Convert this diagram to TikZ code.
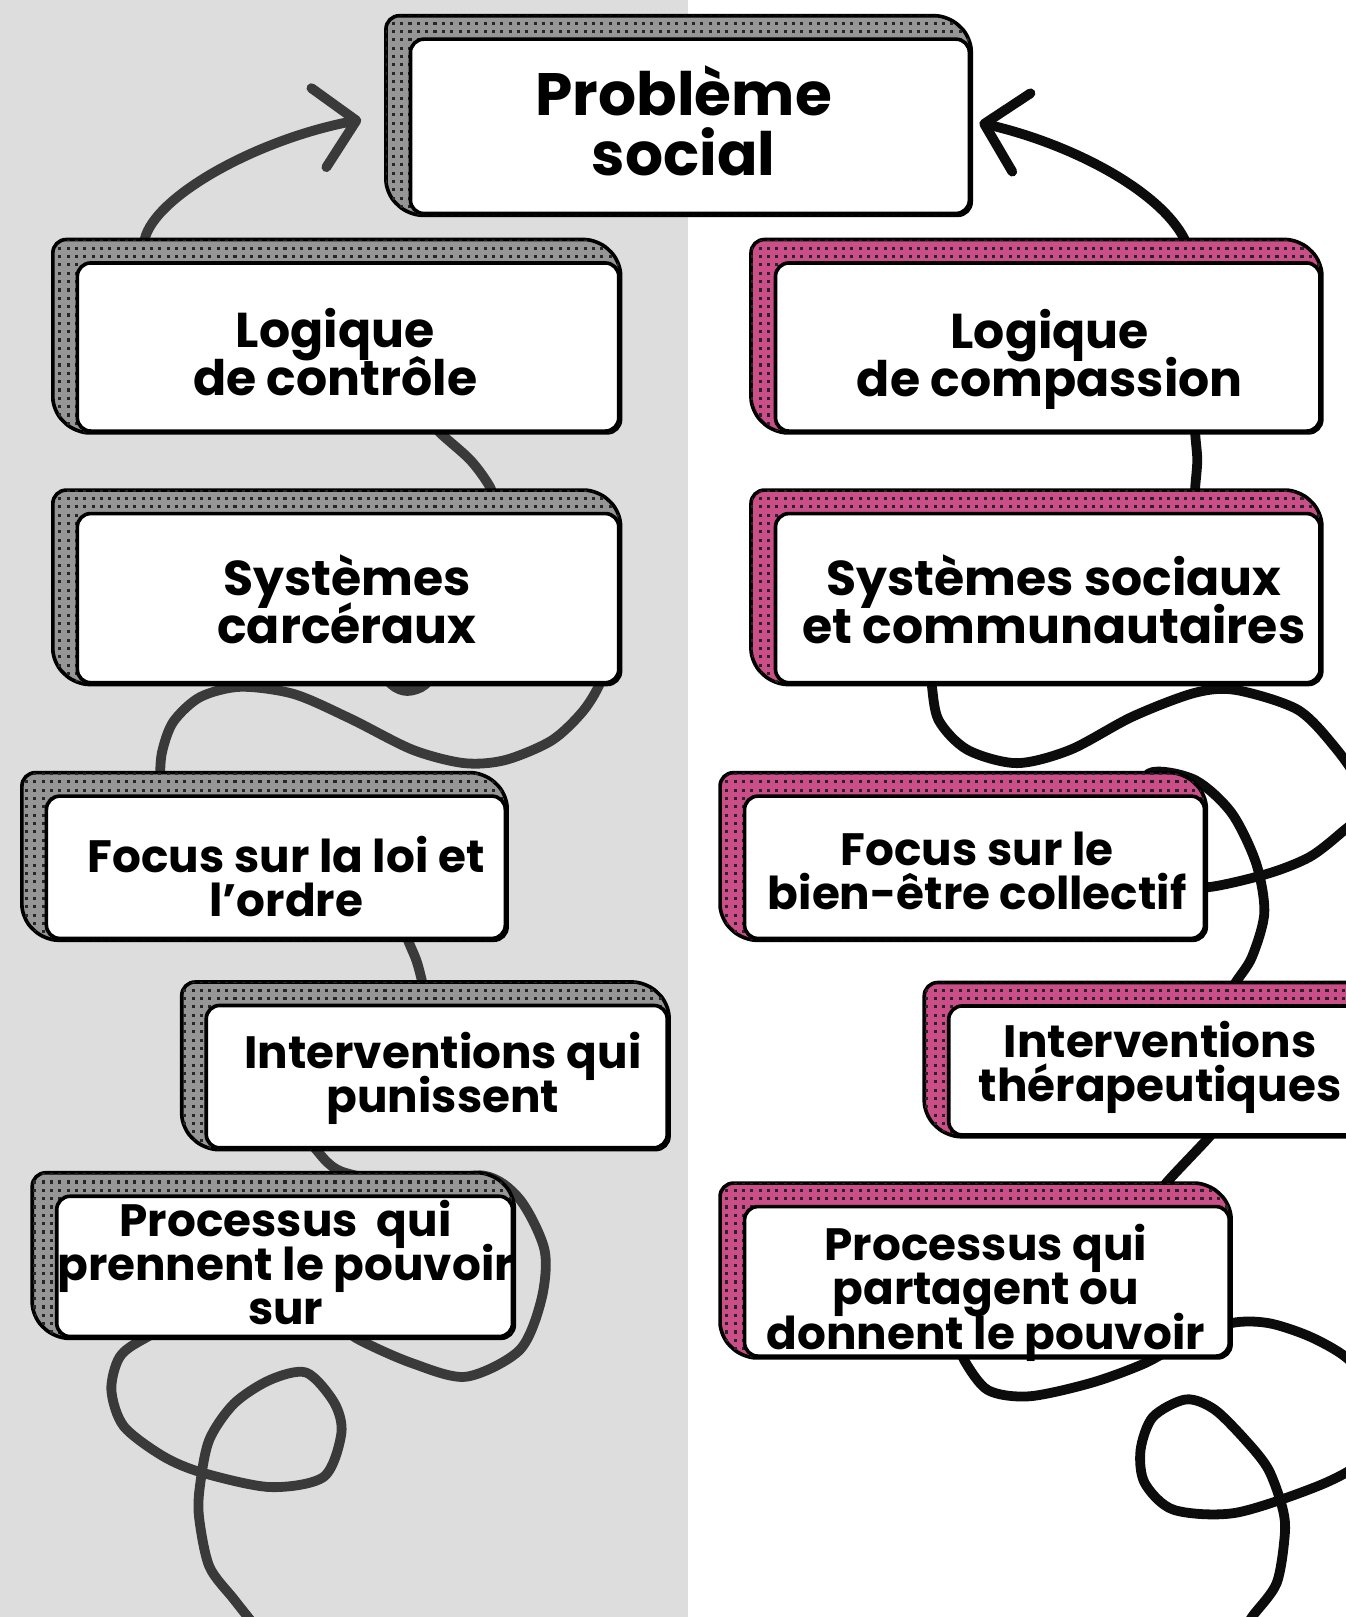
\documentclass[tikz,border=0pt]{standalone}
\usepackage{fontspec}
\setmainfont{Poppins}
\usetikzlibrary{arrows.meta,patterns}

\definecolor{leftbg}{RGB}{221,221,221}
\definecolor{rose}{RGB}{204,78,136}
\definecolor{slate}{RGB}{150,150,150}
\definecolor{inkgray}{RGB}{58,58,58}
\definecolor{ink}{RGB}{12,12,12}

\pgfdeclarelayer{bg}
\pgfdeclarelayer{curves}
\pgfdeclarelayer{depth}
\pgfsetlayers{bg,curves,depth,main}

% little squares for the 3d edge
\pgfdeclarepatternformonly{checks}{\pgfqpoint{-1pt}{-1pt}}{\pgfqpoint{4.6pt}{4.6pt}}{\pgfqpoint{4.6pt}{4.6pt}}{%
  \pgfpathrectangle{\pgfqpoint{0pt}{0pt}}{\pgfqpoint{1.7pt}{1.7pt}}\pgfusepath{fill}}

\tikzset{
  card/.style={draw=black, line width=2pt, fill=white, rounded corners=2.6mm, inner sep=0pt},
  cardtext/.style={align=center, inner sep=0pt, font=\bfseries\fontsize{27}{26.6}\selectfont},
  small cardtext/.style={cardtext, font=\bfseries\fontsize{25}{24.4}\selectfont},
  big cardtext/.style={cardtext, font=\bfseries\fontsize{33}{33}\selectfont},
  wiggle/.style={line width=5.4pt, line cap=round, line join=round},
  leftline/.style={wiggle, draw=inkgray},
  rightline/.style={wiggle, draw=ink},
  barb/.style={-{Straight Barb[length=7.4mm, width=15.6mm, round]}}
}

% the shaded 3d edge behind a card
\newcommand{\carddepth}[2]{%
  \begin{pgfonlayer}{depth}
    \draw[line width=2pt, rounded corners=2.6mm, fill=#2,
      postaction={pattern=checks, pattern color=black!85}]
      ([shift={(-22,-21)}]#1.north west) -- ([shift={(-22,-21)}]#1.north east)
      -- (#1.north east) -- (#1.south east) -- (#1.south west)
      -- ([shift={(-22,-21)}]#1.south west) -- cycle;
  \end{pgfonlayer}}

% text of a card: style, card, x offset, strut height, strut depth, text
\newcommand{\inscribe}[6]{%
  \node[#1] (#2t) at ([shift={(#3,0)}]#2.center) {\rule{0pt}{#4}#6\rule[-#5]{0pt}{0pt}};}

\begin{document}
\setlength{\lineskiplimit}{-50pt}
\begin{tikzpicture}[x=0.2mm, y=-0.2mm]
  \useasboundingbox (0,0) rectangle (1305,1568);
  \begin{pgfonlayer}{bg}
    \fill[leftbg] (0,0) rectangle (667,1568);
  \end{pgfonlayer}

  % top
  \node[card, minimum width=108.4mm, minimum height=33.8mm] (P) at (669,122.5) {};

  % control side
  \node[card, minimum width=105mm, minimum height=32.6mm] (L1) at (337.5,336.5) {};
  \node[card, minimum width=105mm, minimum height=32.8mm] (L2) at (337.5,580) {};
  \node[card, minimum width=89mm, minimum height=27.6mm] (L3) at (267.5,841) {};
  \node[card, minimum width=89.4mm, minimum height=27.6mm] (L4) at (423.5,1044) {};
  \node[card, minimum width=88.4mm, minimum height=27.2mm] (L5) at (276,1228) {};

  % compassion side
  \node[card, minimum width=105.6mm, minimum height=32.6mm] (R1) at (1016,336.5) {};
  \node[card, minimum width=105.6mm, minimum height=32.8mm] (R2) at (1016,580) {};
  \node[card, minimum width=89.2mm, minimum height=27.6mm] (R3) at (945,841) {};
  \node[card, minimum width=84mm, minimum height=25mm] (R4) at (1130,1038) {};
  \node[card, minimum width=94mm, minimum height=29mm] (R5) at (957,1242.5) {};

  \inscribe{big cardtext}{P}{-6}{40.6pt}{19.4pt}{Problème\\social}
  \inscribe{cardtext}{L1}{-12.5}{43.7pt}{16.3pt}{Logique\\de contrôle}
  \inscribe{cardtext}{L2}{-1}{42pt}{18pt}{Systèmes\\carcéraux}
  \inscribe{small cardtext}{L3}{10}{44.8pt}{15.2pt}{Focus sur la loi et\\l’ordre}
  \inscribe{small cardtext}{L4}{6}{37.6pt}{22.4pt}{Interventions qui\\punissent}
  \inscribe{small cardtext}{L5}{1}{37.7pt}{22.3pt}{Processus~~qui\\prennent le pouvoir\\sur}
  \inscribe{cardtext}{R1}{2}{43.9pt}{16.1pt}{Logique\\de compassion}
  \inscribe{cardtext}{R2}{6}{41.7pt}{18.3pt}{Systèmes sociaux\\et communautaires}
  \inscribe{small cardtext}{R3}{2.5}{41.3pt}{18.7pt}{Focus sur le\\bien-être collectif}
  \inscribe{small cardtext}{R4}{-5}{35.1pt}{24.9pt}{Interventions\\thérapeutiques}
  \inscribe{small cardtext}{R5}{-1}{43pt}{17pt}{Processus qui\\partagent ou\\donnent le pouvoir}

  \carddepth{P}{slate}
  \carddepth{L1}{slate}
  \carddepth{L2}{slate}
  \carddepth{L3}{slate}
  \carddepth{L4}{slate}
  \carddepth{L5}{slate}
  \carddepth{R1}{rose}
  \carddepth{R2}{rose}
  \carddepth{R3}{rose}
  \carddepth{R4}{rose}
  \carddepth{R5}{rose}

  \begin{pgfonlayer}{curves}
    % arrows back to the problem
    \draw[leftline, barb] ([shift={(67,-21)}]L1.north west) .. controls (150,190) and (250,135) .. ([shift={(-46,-6.5)}]P.west);
    \draw[rightline, barb] ([shift={(-133,-21)}]R1.north east) .. controls (1125,185) and (1040,140) .. ([shift={(8,-3.5)}]P.east);

    % control side
    \draw[leftline] plot[smooth] coordinates {(415,400) (424,417) (456,446) (475,472) (480,490)};
    \draw[leftline] plot[smooth] coordinates {(360,640) (380,664) (395,670) (412,664) (430,640)};
    \draw[leftline] plot[smooth] coordinates {(590,630) (582,662) (565,690) (535,718) (490,737) (450,740)
      (400,727) (340,697) (285,673) (233,666) (194,676) (168,700) (157,730) (155,760) (155,780)};
    \draw[leftline] plot[smooth] coordinates {(392,895) (395,910) (404,932) (410,955) (412,970)};
    \draw[leftline] plot[smooth] coordinates {(295,1100) (305,1113) (331,1136) (400,1148) (469,1140)
      (504,1163) (528,1212) (525,1260) (504,1309) (452,1335) (400,1322) (348,1299)
      (300,1270) (200,1270) (140,1298) (116,1316) (108,1348) (120,1383) (158,1412) (196,1428)
      (262,1442) (314,1432) (331,1390) (324,1360) (297,1331) (262,1338) (227,1361) (203,1396)
      (194,1440) (193,1471) (203,1519) (227,1551) (250,1580)};

    % compassion side
    \draw[rightline] plot[smooth] coordinates {(1160,400) (1159,420) (1161,446) (1159,472) (1158,490)};
    \draw[rightline] plot[smooth] coordinates {(900,640) (903,660) (910,698) (938,727) (986,740) (1038,727)
      (1098,695) (1158,672) (1198,669) (1258,688) (1294,724) (1318,760) (1318,790) (1300,808)
      (1270,831) (1230,847) (1174,860) (1140,858) (1110,830) (1102,790) (1114,750) (1158,756)
      (1194,788) (1218,837) (1226,885) (1214,928) (1198,953) (1190,970)};
    \draw[rightline] plot[smooth] coordinates {(1180,1090) (1173,1102) (1131,1147) (1125,1160)};
    \draw[rightline] plot[smooth] coordinates {(930,1300) (935,1319) (958,1348) (998,1354) (1058,1341)
      (1110,1322) (1150,1300) (1194,1283) (1230,1283) (1270,1296) (1305,1316) (1330,1345)
      (1335,1390) (1320,1418) (1278,1441) (1198,1467) (1138,1464) (1110,1438) (1106,1406)
      (1118,1374) (1150,1357) (1178,1367) (1210,1399) (1230,1425) (1243,1460) (1246,1486)
      (1238,1535) (1214,1568) (1205,1585)};
  \end{pgfonlayer}
\end{tikzpicture}
\end{document}
